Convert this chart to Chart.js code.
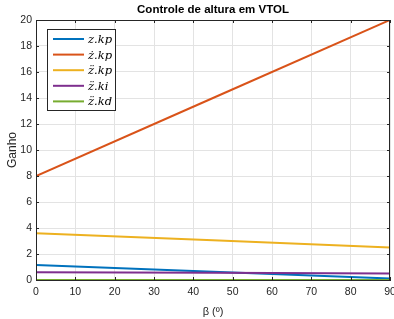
<!DOCTYPE html>
<html>
<head>
<meta charset="utf-8">
<script src="https://cdn.jsdelivr.net/npm/chart.js@4.4.0/dist/chart.umd.min.js"></script>
<style>
  html, body { margin: 0; padding: 0; background: #fff; }
  #wrap { width: 394px; height: 319px; }
</style>
</head>
<body>
<div id="wrap"><canvas id="c" width="394" height="319"></canvas></div>
<script>
// ─── Data ────────────────────────────────────────────────────────────────────
const beta = [0, 45, 90];
const zKp = [1.15, 0.63, 0.12];
const zdKp = [8, 14, 20];
const zddKp = [3.6, 3.05, 2.5];
const zddKi = [0.6, 0.55, 0.5];
const zddKd = [0, 0, 0];

const xTicks = [0, 10, 20, 30, 40, 50, 60, 70, 80, 90];
const yTicks = [0, 2, 4, 6, 8, 10, 12, 14, 16, 18, 20];

const labels = ['z.kp', 'z\u0307.kp', 'z\u0308.kp', 'z\u0308.ki', 'z\u0308.kd'];
const series = [zKp, zdKp, zddKp, zddKi, zddKd];
const colors = ['#0072BD', '#D95319', '#EDB120', '#7E2F8E', '#77AC30'];

const axisColor = '#262626';
const gridColor = '#e3e3e3';
const sans = '"Liberation Sans", Arial, Helvetica, sans-serif';

const datasets = series.map((s, i) => ({
  label: labels[i],
  data: s.map((v, j) => ({ x: beta[j], y: v })),
  borderColor: colors[i],
  backgroundColor: colors[i],
  borderWidth: 2,
  pointRadius: 0,
  fill: false,
  tension: 0,
  order: series.length - i,
}));

// ─── Plugins: box, inward ticks, title, legend ───────────────────────────────
const matlabFrame = {
  id: 'matlabFrame',
  afterDatasetsDraw(chart) {
    const { ctx, chartArea: a, scales } = chart;
    ctx.save();
    ctx.strokeStyle = axisColor;
    ctx.lineWidth = 1;
    ctx.strokeRect(Math.round(a.left) + 0.5, Math.round(a.top) + 0.5,
      Math.round(a.right - a.left) - 1, Math.round(a.bottom - a.top));
    ctx.beginPath();
    xTicks.forEach(t => {
      const px = Math.round(scales.x.getPixelForValue(t)) + 0.5;
      ctx.moveTo(px, a.bottom); ctx.lineTo(px, a.bottom - 3);
      ctx.moveTo(px, a.top); ctx.lineTo(px, a.top + 3);
    });
    yTicks.forEach(t => {
      const py = Math.round(scales.y.getPixelForValue(t)) + 0.5;
      ctx.moveTo(a.left, py); ctx.lineTo(a.left + 3, py);
      ctx.moveTo(a.right, py); ctx.lineTo(a.right - 3, py);
    });
    ctx.stroke();

    // title
    ctx.fillStyle = '#000';
    ctx.font = 'bold 11.5px ' + sans;
    ctx.textAlign = 'center';
    ctx.textBaseline = 'middle';
    ctx.fillText('Controle de altura em VTOL', (a.left + a.right) / 2, 10);

    // legend
    const lx = 47, ly = 29, lw = 68, lh = 81;
    ctx.fillStyle = '#fff';
    ctx.fillRect(lx, ly, lw, lh);
    ctx.strokeStyle = axisColor;
    ctx.strokeRect(lx + 0.5, ly + 0.5, lw, lh);
    ctx.font = 'italic 11.5px "DejaVu Serif", "Liberation Serif", serif';
    ctx.textAlign = 'left';
    chart.data.datasets.forEach((d, i) => {
      const y = 39 + i * 15.6;
      ctx.strokeStyle = d.borderColor;
      ctx.lineWidth = 2;
      ctx.beginPath();
      ctx.moveTo(53, y); ctx.lineTo(84, y);
      ctx.stroke();
      ctx.fillStyle = '#000';
      ctx.fillText(d.label, 88, y + 1);
    });
    ctx.restore();
  },
};

new Chart(document.getElementById('c').getContext('2d'), {
  type: 'line',
  data: { datasets },
  options: {
    responsive: false,
    animation: false,
    layout: { padding: { top: 20, right: 4, left: 0, bottom: 0 } },
    plugins: { legend: { display: false }, title: { display: false }, tooltip: { enabled: false } },
    scales: {
      x: {
        type: 'linear',
        min: 0, max: 90,
        afterBuildTicks: s => { s.ticks = xTicks.map(v => ({ value: v })); },
        afterFit: s => { s.height = 39; s.paddingRight = 0; s.paddingLeft = 0; },
        grid: { color: gridColor, drawTicks: false },
        border: { color: axisColor },
        ticks: { color: axisColor, font: { family: sans, size: 10.5 }, padding: 6 },
        title: { display: true, text: 'β (º)', color: axisColor, font: { family: sans, size: 11 }, padding: { top: 1, bottom: 0 } },
      },
      y: {
        type: 'linear',
        min: 0, max: 20,
        afterBuildTicks: s => { s.ticks = yTicks.map(v => ({ value: v })); },
        afterFit: s => { s.width = 36; s.paddingTop = 0; s.paddingBottom = 0; },
        grid: { color: gridColor, drawTicks: false },
        border: { color: axisColor },
        ticks: { color: axisColor, font: { family: sans, size: 10.5 }, padding: 4 },
        title: { display: true, text: 'Ganho', color: axisColor, font: { family: sans, size: 12 }, padding: { top: 5, bottom: 0 } },
      },
    },
  },
  plugins: [matlabFrame],
});
</script>
</body>
</html>
